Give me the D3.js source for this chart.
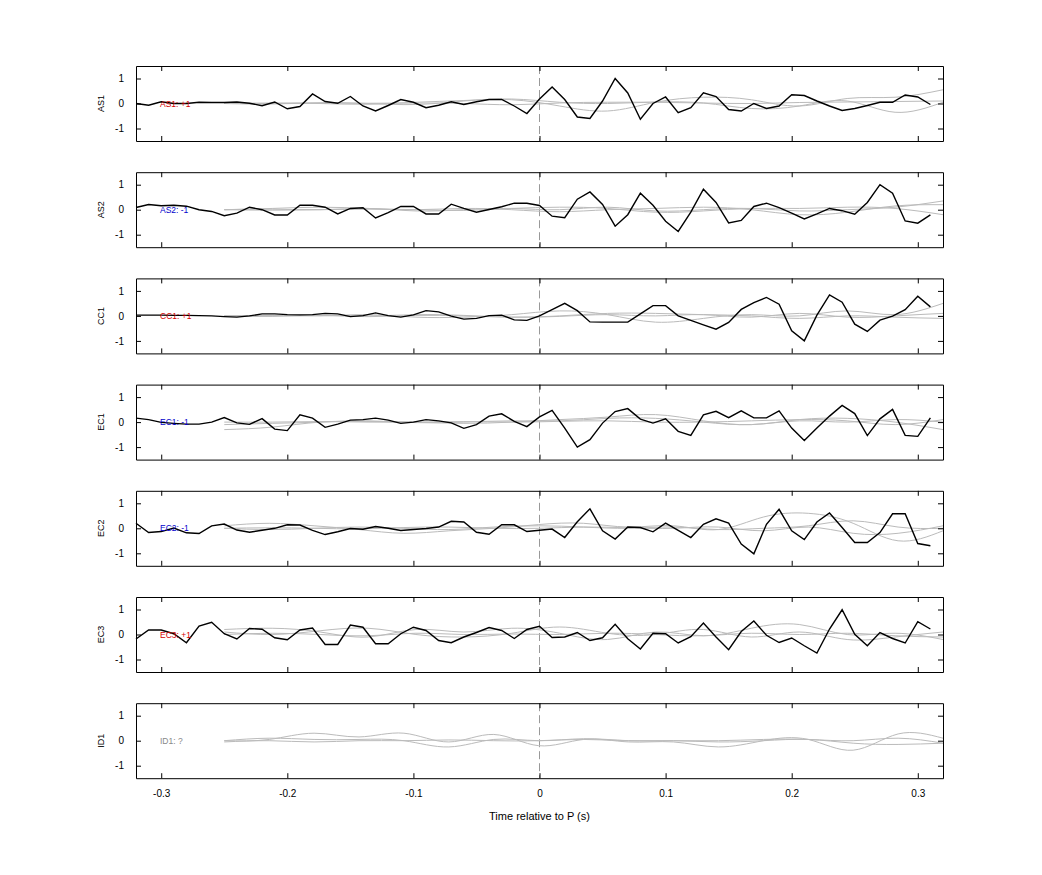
<!DOCTYPE html>
<html><head><meta charset="utf-8">
<script src="https://cdn.jsdelivr.net/npm/d3@7"></script>
<style>body{margin:0;background:#fff}</style>
</head><body>
<svg id="c" width="1042" height="875"></svg>
<script>
const stations = ["AS1","AS2","CC1","EC1","EC2","EC3","ID1"];
const polarity = ["+1","-1","+1","-1","-1","+1","?"];
const xTicks = [-0.3,-0.2,-0.1,0,0.1,0.2,0.3];
const yTicks = [-1,0,1];
// black traces sampled every 0.01 s from -0.32 s
const tStart = -0.32, tStep = 0.01;
const AS1 = [0,-0.07,0.07,0,0,0.05,0.04,0.04,0.06,0.01,-0.09,0.06,-0.21,-0.12,0.38,0.08,0.01,0.28,-0.1,-0.3,-0.08,0.16,0.05,-0.17,-0.07,0.07,-0.04,0.07,0.16,0.16,-0.1,-0.4,0.18,0.66,0.16,-0.54,-0.6,0.1,1.0,0.42,-0.63,0,0.26,-0.37,-0.17,0.43,0.28,-0.24,-0.3,0,-0.2,-0.1,0.35,0.32,0.1,-0.1,-0.28,-0.2,-0.08,0.05,0.05,0.34,0.26,-0.04];
const AS2 = [0.09,0.21,0.16,0.18,0.14,0,-0.07,-0.24,-0.14,0.1,0,-0.21,-0.21,0.18,0.18,0.1,-0.17,0.05,0.08,-0.33,-0.12,0.13,0.13,-0.17,-0.17,0.22,0.05,-0.1,0.01,0.12,0.26,0.26,0.17,-0.26,-0.32,0.42,0.71,0.21,-0.66,-0.2,0.66,0.18,-0.46,-0.87,-0.1,0.82,0.29,-0.53,-0.43,0.13,0.26,0.08,-0.14,-0.37,-0.17,0.05,-0.04,-0.18,0.29,1.0,0.66,-0.45,-0.54,-0.21];
const CC1 = [0.03,0.03,0.03,0.02,0.02,0.01,0,-0.03,-0.05,0,0.08,0.08,0.05,0.04,0.05,0.1,0.08,-0.03,0.01,0.12,0.01,-0.05,0.04,0.21,0.16,-0.01,-0.13,-0.1,0.01,0.03,-0.16,-0.18,0,0.25,0.5,0.21,-0.24,-0.25,-0.25,-0.25,0.08,0.41,0.41,0,-0.18,-0.36,-0.53,-0.26,0.26,0.53,0.74,0.47,-0.6,-1.0,0.03,0.84,0.55,-0.33,-0.62,-0.17,-0.01,0.25,0.79,0.36];
const EC1 = [0.16,0.1,-0.01,-0.05,-0.08,-0.08,0,0.18,-0.03,-0.09,0.14,-0.28,-0.34,0.29,0.16,-0.21,-0.08,0.08,0.1,0.16,0.08,-0.05,0,0.1,0.05,-0.03,-0.25,-0.1,0.24,0.33,0.03,-0.18,0.21,0.47,-0.24,-1.0,-0.7,-0.04,0.42,0.54,0.12,-0.04,0.13,-0.37,-0.53,0.29,0.43,0.18,0.45,0.17,0.17,0.45,-0.24,-0.74,-0.24,0.24,0.67,0.34,-0.54,0.13,0.51,-0.53,-0.57,0.17];
const EC2 = [0.2,-0.17,-0.13,0.01,-0.18,-0.21,0.1,0.17,-0.07,-0.16,-0.08,0,0.14,0.13,-0.08,-0.25,-0.14,-0.01,-0.04,0.07,0,-0.09,-0.05,-0.01,0.05,0.28,0.25,-0.16,-0.24,0.14,0.14,-0.13,-0.08,-0.03,-0.37,0.26,0.78,-0.1,-0.43,0.05,0.03,-0.14,0.21,-0.08,-0.37,0.16,0.38,0.21,-0.63,-1.02,0.16,0.76,-0.1,-0.45,0.25,0.61,0.03,-0.57,-0.57,-0.17,0.58,0.58,-0.61,-0.7];
const EC3 = [-0.18,0.18,0.18,0.03,-0.33,0.34,0.49,0.03,-0.18,0.24,0.21,-0.13,-0.21,0.18,0.26,-0.4,-0.4,0.38,0.29,-0.37,-0.37,0.03,0.29,0.16,-0.24,-0.33,-0.1,0.08,0.28,0.16,-0.16,0.2,0.33,-0.12,-0.1,0.08,-0.24,-0.13,0.41,-0.17,-0.58,0.05,0.03,-0.34,-0.09,0.46,-0.1,-0.61,0.12,0.54,-0.03,-0.32,-0.14,-0.45,-0.74,0.22,0.99,0.01,-0.45,0.08,-0.16,-0.34,0.51,0.22];
const blackTraces = [AS1,AS2,CC1,EC1,EC2,EC3,null];
// grey reference traces, evenly spanning -0.25 s to 0.32 s
const gStart = -0.25, gEnd = 0.32;
const greyAS1 = [[0,0.02,0,-0.03,0.05,0.12,0.15,-0.1,-0.3,0.05,0.25,0.15,-0.1,0.2,0.25,0.55],[0,-0.02,0.03,0,-0.04,0.1,0.18,0.05,0,0.06,0.02,-0.2,-0.1,0.1,-0.35,0.05],[0,0,0.02,0.01,0.02,0,-0.05,0.02,0.05,0.05,0.02,0,0.04,0.06,0.08,0.1]];
const greyAS2 = [[0,0.02,0,0.05,-0.05,0,0.05,0,0.1,-0.05,0,0.05,-0.05,0,0.1,0.35],[0,0.05,0.1,0.05,0,0.05,0,-0.08,0,0.05,0.1,0,-0.2,-0.1,0.15,0.2],[0,-0.02,0,0.02,0,-0.03,0.05,0.1,0.05,-0.1,-0.05,0.05,0.05,0.1,0.05,-0.2]];
const greyCC1 = [[0,0.02,0,0.05,-0.05,-0.05,0.05,0.2,0.05,-0.25,-0.1,0.05,0,0.2,0.05,0.5],[0,-0.02,0.03,0,0.05,0.02,-0.05,0,0.1,0.1,0.05,0,-0.1,0,-0.05,-0.1],[0,0,0.02,-0.03,0.02,0,-0.05,-0.02,0.05,0,0.05,-0.05,0.1,-0.05,0,0.1]];
const greyEC1 = [[-0.3,-0.2,0,0.03,0,-0.05,0,0.1,0.2,0.3,0.05,-0.1,0.1,0.15,0,-0.3],[-0.1,-0.05,0,0.05,-0.02,0,0.05,0.05,0.15,0.15,0,-0.1,0.05,0,0.1,0],[0,0,0.02,0,0,0.02,0,0.03,0.05,0,0,0.05,0.1,0.05,-0.1,0.1]];
const greyEC2 = [[0.1,0.2,0.1,-0.05,-0.2,-0.1,0,0.15,0.2,0.05,0.1,-0.05,0.45,0.6,0.2,-0.5,-0.1],[0,-0.05,0,0.05,0,-0.05,0.05,0.1,0.05,0,0.05,-0.05,0,0.1,0.3,0.05,0],[0,0.02,0,-0.02,0.03,0.05,0,0,0.05,0.02,0,0.05,-0.1,0.05,-0.2,-0.2,0.1]];
const greyEC3 = [[0.2,0.25,0.1,-0.1,0.2,0.1,0.25,0.05,-0.2,0.1,-0.05,0.25,0.4,0,0.05,-0.2],[0.1,0,0.15,0.25,0,-0.1,0.05,0.3,0.05,0,0.2,-0.1,0.1,-0.2,-0.1,0.1],[0,0.05,0,-0.05,0.05,0,0.02,0,0.05,0,-0.05,0.05,0,0.05,-0.05,-0.1]];
const greyID1 = [[0,0.05,0.3,0.15,0.3,-0.05,0.25,-0.2,0.05,-0.05,-0.05,-0.25,0,0.05,-0.38,0.27,0.1],[0,0.1,0.05,0.05,0,-0.25,0.05,0,0.08,0,0,0,0.05,0.05,0,0.1,-0.1],[-0.05,0,-0.05,0,0,0.03,0,0,0.05,0,0,-0.05,0,0.05,-0.1,-0.15,-0.1]];
const greyTraces = [greyAS1,greyAS2,greyCC1,greyEC1,greyEC2,greyEC3,greyID1];

const svg = d3.select("#c");
const L = 136, R = 943, panelTop = 66, panelH = 75, panelGap = 106.2;
const x = d3.scaleLinear().domain([-0.32,0.32]).range([L,R]);
const font = "Liberation Sans, Arial, sans-serif";
const polColor = p => p==="+1" ? "#d40000" : p==="-1" ? "#0000cc" : "#888";
const fmt = v => String(v);

stations.forEach((st,k)=>{
  const top = panelTop + k*panelGap, bot = top+panelH;
  const y = d3.scaleLinear().domain([-1.5,1.5]).range([bot,top]);
  const g = svg.append("g");
  g.append("line").attr("x1",x(0)).attr("x2",x(0)).attr("y1",top).attr("y2",bot)
    .attr("stroke", "#999").attr("stroke-dasharray","8,4").attr("stroke-width",1);
  greyTraces[k].forEach(s=>{
    const st2 = (gEnd-gStart)/(s.length-1);
    const gl = d3.line().x((d,i)=>x(gStart+i*st2)).y(d=>y(d)).curve(d3.curveNatural);
    g.append("path").attr("d",gl(s)).attr("fill","none").attr("stroke","#bbb").attr("stroke-width",1);
  });
  if(blackTraces[k]){
    const bl = d3.line().x((d,i)=>x(tStart+i*tStep)).y(d=>y(d));
    g.append("path").attr("d",bl(blackTraces[k])).attr("fill","none").attr("stroke","#000").attr("stroke-width",1.4);
  }
  const ax = (gen, tx, ty)=>{
    const a = g.append("g").attr("transform",`translate(${tx},${ty})`).call(gen);
    a.select(".domain").attr("stroke","#000");
    a.selectAll("line").attr("stroke","#000");
    a.selectAll("text").attr("font-family",font).attr("font-size",10);
    return a;
  };
  ax(d3.axisLeft(y).tickValues(yTicks).tickSize(-5).tickPadding(12).tickSizeOuter(0).tickFormat(fmt),L,0);
  ax(d3.axisRight(y).tickValues(yTicks).tickSize(-5).tickFormat("").tickSizeOuter(0),R,0);
  ax(d3.axisTop(x).tickValues(xTicks).tickSize(-5).tickFormat("").tickSizeOuter(0),0,top);
  ax(d3.axisBottom(x).tickValues(xTicks).tickSize(-5).tickPadding(12).tickSizeOuter(0)
      .tickFormat(k===6 ? fmt : ""),0,bot);
  g.append("text").attr("transform",`translate(104,${(top+bot)/2}) rotate(-90)`).attr("text-anchor","middle")
    .attr("font-family",font).attr("font-size",9).text(st);
  g.append("text").attr("x",160).attr("y",y(0)+3).attr("font-family",font).attr("font-size",8.5)
    .attr("fill",polColor(polarity[k])).text(`${st}: ${polarity[k]}`);
});
svg.append("text").attr("x",x(0)).attr("y",820).attr("text-anchor","middle")
  .attr("font-family",font).attr("font-size",11).text("Time relative to P (s)");
</script>
</body></html>
